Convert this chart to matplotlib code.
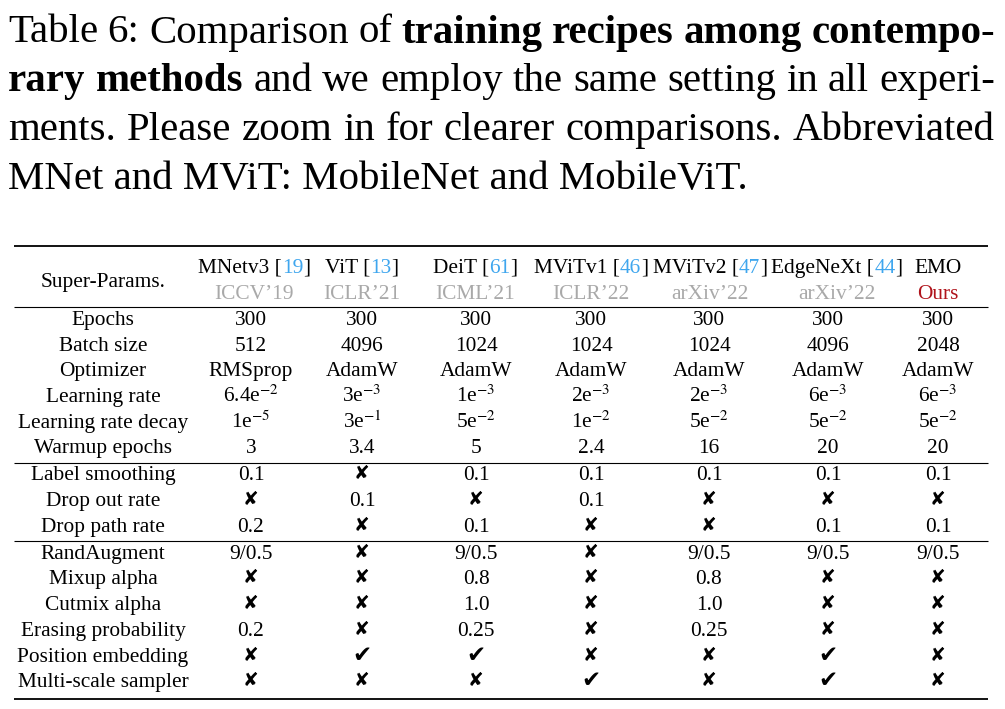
import matplotlib
matplotlib.use("Agg")
import matplotlib.pyplot as plt

# ---------------- data ----------------
caption_lines = [
    [("Table 6: Comparison of", "normal"), ("training recipes among contempo-", "bold")],
    [("rary methods", "bold"), ("and we employ the same setting in all experi-", "normal")],
    [("ments. Please zoom in for clearer comparisons. Abbreviated", "normal")],
]
caption_last = "MNet and MViT: MobileNet and MobileViT."

methods = ["MNetv3", "ViT", "DeiT", "MViTv1", "MViTv2", "EdgeNeXt", "EMO"]
citations = ["19", "13", "61", "46", "47", "44", None]
venues = ["ICCV\u201919", "ICLR\u201921", "ICML\u201921", "ICLR\u201922", "arXiv\u201922", "arXiv\u201922", "Ours"]

X = "\u2718"
C = "\u2714"

row_labels = ["Epochs", "Batch size", "Optimizer", "Learning rate", "Learning rate decay",
              "Warmup epochs", "Label smoothing", "Drop out rate", "Drop path rate",
              "RandAugment", "Mixup alpha", "Cutmix alpha", "Erasing probability",
              "Position embedding", "Multi-scale sampler"]

epochs = ["300", "300", "300", "300", "300", "300", "300"]
batch_size = ["512", "4096", "1024", "1024", "1024", "4096", "2048"]
optimizer = ["RMSprop", "AdamW", "AdamW", "AdamW", "AdamW", "AdamW", "AdamW"]
learning_rate = ["6.4e$^{-2}$", "3e$^{-3}$", "1e$^{-3}$", "2e$^{-3}$", "2e$^{-3}$", "6e$^{-3}$", "6e$^{-3}$"]
lr_decay = ["1e$^{-5}$", "3e$^{-1}$", "5e$^{-2}$", "1e$^{-2}$", "5e$^{-2}$", "5e$^{-2}$", "5e$^{-2}$"]
warmup_epochs = ["3", "3.4", "5", "2.4", "16", "20", "20"]
label_smoothing = ["0.1", X, "0.1", "0.1", "0.1", "0.1", "0.1"]
drop_out_rate = [X, "0.1", X, "0.1", X, X, X]
drop_path_rate = ["0.2", X, "0.1", X, X, "0.1", "0.1"]
rand_augment = ["9/0.5", X, "9/0.5", X, "9/0.5", "9/0.5", "9/0.5"]
mixup_alpha = [X, X, "0.8", X, "0.8", X, X]
cutmix_alpha = [X, X, "1.0", X, "1.0", X, X]
erasing_prob = ["0.2", X, "0.25", X, "0.25", X, X]
position_embedding = [X, C, C, X, X, C, X]
multi_scale_sampler = [X, X, X, C, X, C, X]

row_values = [epochs, batch_size, optimizer, learning_rate, lr_decay, warmup_epochs,
              label_smoothing, drop_out_rate, drop_path_rate,
              rand_augment, mixup_alpha, cutmix_alpha, erasing_prob,
              position_embedding, multi_scale_sampler]
group_ends = [5, 8]  # rules after these row indices

# ---------------- style ----------------
plt.rcParams["font.family"] = ["Liberation Serif", "DejaVu Serif", "DejaVu Sans"]
plt.rcParams["mathtext.fontset"] = "stix"

CITE = "#3fa6ee"
GRAY = "#a9a9a9"
OURS = "#b0141c"
CAP_FS = 29.4
TAB_FS = 15.4
XMARK_FS = 13.5
CHECK_FS = 16.5

fig = plt.figure(figsize=(10.05, 7.09), dpi=100)
ax = fig.add_axes([0, 0, 1, 1])
ax.set_xlim(0, 1005)
ax.set_ylim(709, 0)
ax.axis("off")
renderer = fig.canvas.get_renderer()


def tw(s, **kw):
    t = ax.text(0, 0, s, **kw)
    w = t.get_window_extent(renderer=renderer).width
    t.remove()
    return w


# ---------------- caption ----------------
cap_left, cap_right = 8, 995
cap_base = [42.5, 91, 140, 188.5]
for li, line in enumerate(caption_lines):
    words = []
    for seg, wt in line:
        for w in seg.split(" "):
            words.append((w, wt))
    widths = [tw(w, fontsize=CAP_FS, fontweight=wt) for w, wt in words]
    gap = (cap_right - cap_left - sum(widths)) / (len(words) - 1)
    x = cap_left
    for (w, wt), wd in zip(words, widths):
        ax.text(x, cap_base[li], w, fontsize=CAP_FS, fontweight=wt,
                ha="left", va="baseline", color="black")
        x += wd + gap
ax.text(cap_left, cap_base[3], caption_last, fontsize=CAP_FS, ha="left",
        va="baseline", color="black")

# ---------------- table ----------------
tab_left, tab_right = 14, 988
label_x = 103
head_x = [254, 362, 475, 591, 710, 837, 938]
val_x = [251, 362, 476, 591, 709, 828, 938]

ax.plot([tab_left, tab_right], [246, 246], color="black", lw=1.3, solid_capstyle="butt")
ax.plot([tab_left, tab_right], [307, 307], color="black", lw=0.8, solid_capstyle="butt")
ax.plot([tab_left, tab_right], [699, 699], color="black", lw=1.3, solid_capstyle="butt")


def draw_segments(xc, y, segs):
    full = "".join(s for s, c in segs)
    total = tw(full, fontsize=TAB_FS)
    left = xc - total / 2
    prefix = ""
    for s, c in segs:
        prefix += s
        end = tw(prefix, fontsize=TAB_FS)
        start = left + end - tw(s, fontsize=TAB_FS)
        ax.text(start, y, s, fontsize=TAB_FS, color=c, ha="left", va="baseline")


ax.text(label_x, 287, "Super-Params.", fontsize=TAB_FS, ha="center", va="baseline")
for i, m in enumerate(methods):
    if citations[i]:
        draw_segments(head_x[i], 273, [(m + " [", "black"), (citations[i], CITE), ("]", "black")])
    else:
        ax.text(head_x[i], 273, m, fontsize=TAB_FS, ha="center", va="baseline")
    col = OURS if venues[i] == "Ours" else GRAY
    ax.text(head_x[i], 299, venues[i], fontsize=TAB_FS, ha="center", va="baseline", color=col)

y = 325.0
step = 25.7
for r, (lab, vals) in enumerate(zip(row_labels, row_values)):
    ax.text(label_x, y, lab, fontsize=TAB_FS, ha="center", va="baseline")
    for j, v in enumerate(vals):
        if v == X:
            ax.text(val_x[j], y - 1, v, fontsize=XMARK_FS, ha="center", va="baseline",
                    family="DejaVu Sans", color="black")
        elif v == C:
            ax.text(val_x[j], y, v, fontsize=CHECK_FS, ha="center", va="baseline",
                    family="DejaVu Sans", color="black")
        else:
            ax.text(val_x[j], y, v, fontsize=TAB_FS, ha="center", va="baseline")
    if r in group_ends:
        ax.plot([tab_left, tab_right], [y + 9.5, y + 9.5], color="black", lw=0.8,
                solid_capstyle="butt")
        y += step + 1.2
    else:
        y += step

fig.savefig("out.png", dpi=100)
